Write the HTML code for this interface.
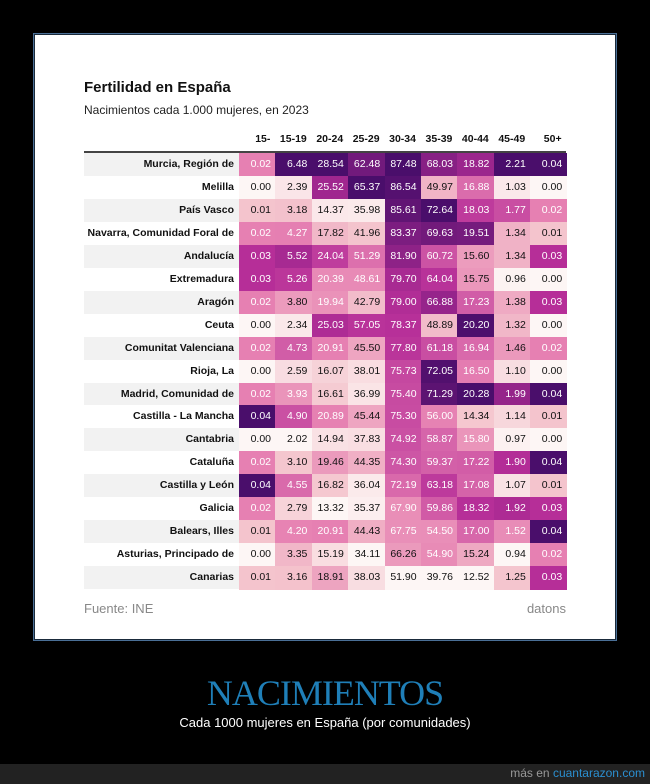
<!DOCTYPE html><html><head><meta charset="utf-8"><style>
body{margin:0;width:650px;height:784px;background:#000;position:relative;overflow:hidden;font-family:"Liberation Sans",sans-serif}
#panel{position:absolute;left:33px;top:33px;width:582px;height:606px;background:#fff;border:1px solid #4a6f96;box-shadow:inset 0 0 0 1px #1a2a3a}
.a{position:absolute;white-space:nowrap}
.c{position:absolute;height:23px;line-height:23px;font-size:10.5px;text-align:right;box-sizing:border-box;padding-right:5px}
.l{position:absolute;height:23px;line-height:23px;font-size:10.5px;font-weight:bold;text-align:right;color:#111;box-sizing:border-box;padding-right:5px}
.h{position:absolute;font-size:10.5px;font-weight:bold;text-align:right;color:#111;box-sizing:border-box;padding-right:5px}
</style></head><body>
<div id="panel"></div>
<div class="a" style="left:84px;top:79px;font-size:15px;font-weight:bold;color:#111">Fertilidad en España</div>
<div class="a" style="left:84px;top:103px;font-size:12px;color:#222">Nacimientos cada 1.000 mujeres, en 2023</div>
<div id="t"></div>
<div style="position:absolute;left:84px;top:151px;width:482px;height:2px;background:#444"></div>
<div class="a" style="left:84px;top:601px;font-size:13px;color:#888">Fuente: INE</div>
<div class="a" style="right:84px;top:601px;font-size:13px;color:#888">datons</div>
<div class="a" style="left:0;width:650px;text-align:center;top:672px;font-family:'Liberation Serif',serif;font-size:36px;color:#1f7fb8;letter-spacing:-1px">NACIMIENTOS</div>
<div class="a" style="left:0;width:650px;text-align:center;top:715px;font-size:13px;color:#fff">Cada 1000 mujeres en España (por comunidades)</div>
<div style="position:absolute;left:0;top:764px;width:650px;height:20px;background:#222"></div>
<div class="a" style="right:5px;top:766px;font-size:12px;color:#999">más en <span style="color:#2b8fd0">cuantarazon.com</span></div>
<script>
var rows=[["Murcia, Región de",0.02,6.48,28.54,62.48,87.48,68.03,18.82,2.21,0.04],
["Melilla",0.00,2.39,25.52,65.37,86.54,49.97,16.88,1.03,0.00],
["País Vasco",0.01,3.18,14.37,35.98,85.61,72.64,18.03,1.77,0.02],
["Navarra, Comunidad Foral de",0.02,4.27,17.82,41.96,83.37,69.63,19.51,1.34,0.01],
["Andalucía",0.03,5.52,24.04,51.29,81.90,60.72,15.60,1.34,0.03],
["Extremadura",0.03,5.26,20.39,48.61,79.70,64.04,15.75,0.96,0.00],
["Aragón",0.02,3.80,19.94,42.79,79.00,66.88,17.23,1.38,0.03],
["Ceuta",0.00,2.34,25.03,57.05,78.37,48.89,20.20,1.32,0.00],
["Comunitat Valenciana",0.02,4.73,20.91,45.50,77.80,61.18,16.94,1.46,0.02],
["Rioja, La",0.00,2.59,16.07,38.01,75.73,72.05,16.50,1.10,0.00],
["Madrid, Comunidad de",0.02,3.93,16.61,36.99,75.40,71.29,20.28,1.99,0.04],
["Castilla - La Mancha",0.04,4.90,20.89,45.44,75.30,56.00,14.34,1.14,0.01],
["Cantabria",0.00,2.02,14.94,37.83,74.92,58.87,15.80,0.97,0.00],
["Cataluña",0.02,3.10,19.46,44.35,74.30,59.37,17.22,1.90,0.04],
["Castilla y León",0.04,4.55,16.82,36.04,72.19,63.18,17.08,1.07,0.01],
["Galicia",0.02,2.79,13.32,35.37,67.90,59.86,18.32,1.92,0.03],
["Balears, Illes",0.01,4.20,20.91,44.43,67.75,54.50,17.00,1.52,0.04],
["Asturias, Principado de",0.00,3.35,15.19,34.11,66.26,54.90,15.24,0.94,0.02],
["Canarias",0.01,3.16,18.91,38.03,51.90,39.76,12.52,1.25,0.03]];
var hd=["15-","15-19","20-24","25-29","30-34","35-39","40-44","45-49","50+"];
var stops=[[0,[253,246,245]],[0.25,[244,196,205]],[0.5,[230,128,178]],[0.75,[182,46,152]],[1,[74,14,107]]];
function col(t){for(var i=1;i<stops.length;i++){if(t<=stops[i][0]){var a=stops[i-1],b=stops[i],f=(t-a[0])/(b[0]-a[0]);return 'rgb('+a[1].map(function(v,k){return Math.round(v+(b[1][k]-v)*f)}).join(',')+')';}}return 'rgb(74,14,107)';}
var h='',x0=239,w=36.4,y0=153,rh=22.95;
hd.forEach(function(s,j){h+='<div class="h" style="left:'+(x0+j*w)+'px;top:133px;width:'+w+'px">'+s+'</div>';});
var mn=[],mx=[];for(var j=1;j<10;j++){var v=rows.map(function(r){return r[j]});mn[j]=Math.min.apply(0,v);mx[j]=Math.max.apply(0,v);}
rows.forEach(function(r,i){var y=y0+i*rh;
h+='<div class="l" style="left:84px;top:'+y+'px;width:155px;background:'+(i%2==0?'#f2f2f2':'#fff')+'">'+r[0]+'</div>';
for(var j=1;j<10;j++){var t=(r[j]-mn[j])/(mx[j]-mn[j]);
h+='<div class="c" style="left:'+(x0+(j-1)*w)+'px;top:'+y+'px;width:'+(w+0.6)+'px;height:'+(rh+0.6)+'px;background:'+col(t)+';color:'+(t>0.42?'#fff':'#111')+'">'+r[j].toFixed(2)+'</div>';}});
document.getElementById('t').innerHTML=h;
</script></body></html>
